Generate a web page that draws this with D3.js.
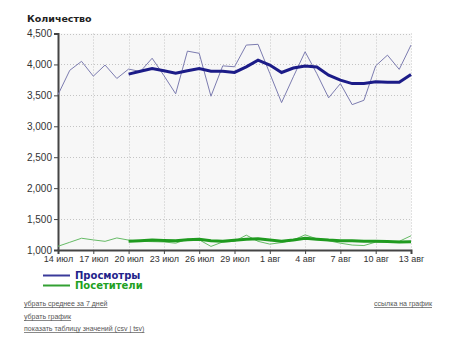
<!DOCTYPE html>
<html><head><meta charset="utf-8">
<script src="https://cdn.jsdelivr.net/npm/d3@7"></script>
<style>
body{margin:0;background:#fff;}
svg{display:block;}
.lnk{font-family:"Liberation Sans",Arial,sans-serif;font-size:7px;fill:#555;text-decoration:underline;}
</style></head>
<body>
<script>
const dayLabels = ["14 июл","17 июл","20 июл","23 июл","26 июл","29 июл","1 авг","4 авг","7 авг","10 авг","13 авг"];
const yTicks = [1000,1500,2000,2500,3000,3500,4000,4500];
const views = [3510,3905,4050,3810,3990,3773,3925,3885,4100,3820,3525,4215,4180,3486,3977,3962,4313,4325,3855,3383,3800,4205,3850,3460,3690,3350,3420,3977,4150,3920,4313];
const viewsAvg = [3843,3890,3935,3897,3856,3897,3935,3890,3890,3870,3960,4070,3990,3870,3942,3973,3960,3826,3745,3690,3690,3718,3710,3710,3838];
const visitors = [1060,1125,1190,1163,1140,1195,1160,1140,1135,1130,1110,1175,1165,1058,1130,1140,1240,1140,1095,1120,1160,1245,1180,1150,1110,1080,1072,1128,1135,1140,1230];
const visitorsAvg = [1140,1150,1160,1155,1150,1165,1172,1150,1140,1158,1175,1180,1160,1142,1160,1188,1175,1160,1150,1148,1140,1140,1138,1130,1135];
const avgStart = 6;

const W=450,H=351;
const svg=d3.select("body").append("svg").attr("width",W).attr("height",H);
const x=d3.scaleLinear().domain([0,30]).range([58,411]);
const y=d3.scaleLinear().domain([1000,4500]).range([250,33.5]);

svg.append("rect").attr("x",58).attr("y",33.5).attr("width",353).attr("height",216.5).attr("fill","#f7f7f7");

const g=svg.append("g");
g.selectAll(".hg").data(yTicks.slice(1)).join("line")
 .attr("x1",58).attr("x2",411).attr("y1",d=>Math.round(y(d))+0.5).attr("y2",d=>Math.round(y(d))+0.5)
 .attr("stroke","#c4c4c4").attr("stroke-dasharray","1,2");
g.selectAll(".vg").data(dayLabels.map((d,i)=>i*3).slice(1)).join("line")
 .attr("x1",d=>Math.round(x(d))+0.5).attr("x2",d=>Math.round(x(d))+0.5).attr("y1",33.5).attr("y2",250)
 .attr("stroke","#c4c4c4").attr("stroke-dasharray","1,2");

const fmt=d3.format(",");
const ya=svg.append("g").attr("transform","translate(58,0)")
 .call(d3.axisLeft(y).tickValues(yTicks).tickFormat(fmt).tickSize(4).tickPadding(2));
ya.select(".domain").attr("stroke","#444").attr("stroke-width",2);
ya.selectAll(".tick line").attr("stroke","#444");
ya.selectAll("text").attr("font-family","'Liberation Sans',Arial,sans-serif").attr("font-size","10px").attr("fill","#333");

const xa=svg.append("g").attr("transform","translate(0,250)")
 .call(d3.axisBottom(x).tickValues(dayLabels.map((d,i)=>i*3)).tickFormat((d,i)=>dayLabels[i]).tickSize(4).tickPadding(2));
xa.select(".domain").attr("stroke","#444").attr("stroke-width",2);
xa.selectAll(".tick line").attr("stroke","#444");
xa.selectAll("text").attr("font-family","'Liberation Sans',Arial,sans-serif").attr("font-size","9px").attr("fill","#333");

const line=d3.line().x(d=>x(d[0])).y(d=>y(d[1]));
const toPts=(arr,off)=>arr.map((v,i)=>[i+off,v]);

svg.append("path").attr("d",line(toPts(visitors,0))).attr("fill","none").attr("stroke","#66bb66").attr("stroke-width",1);
svg.append("path").attr("d",line(toPts(visitorsAvg,avgStart))).attr("fill","none").attr("stroke","#1f9a1f").attr("stroke-width",3);
svg.append("path").attr("d",line(toPts(views,0))).attr("fill","none").attr("stroke","#7c7cb0").attr("stroke-width",1);
svg.append("path").attr("d",line(toPts(viewsAvg,avgStart))).attr("fill","none").attr("stroke","#1c1c88").attr("stroke-width",3);

svg.append("text").attr("x",27).attr("y",22).text("Количество")
 .attr("font-family","'DejaVu Sans',Verdana,sans-serif").attr("font-weight","bold").attr("font-size","9.5px").attr("fill","#222");

const leg=[["Просмотры","#3a3a9a","#22228a"],["Посетители","#33a033","#22a022"]];
leg.forEach((l,i)=>{
 const yy=279+i*10;
 svg.append("line").attr("x1",43).attr("x2",70).attr("y1",yy-3.5).attr("y2",yy-3.5).attr("stroke",l[1]).attr("stroke-width",2);
 svg.append("text").attr("x",75).attr("y",yy).text(l[0]).attr("font-family","'DejaVu Sans',Verdana,sans-serif")
  .attr("font-weight","bold").attr("font-size","10px").attr("fill",l[2]);
});

svg.append("text").attr("class","lnk").attr("x",24).attr("y",306).text("убрать среднее за 7 дней");
svg.append("text").attr("class","lnk").attr("x",24).attr("y",319).text("убрать график");
svg.append("text").attr("class","lnk").attr("x",24).attr("y",331).text("показать таблицу значений (csv | tsv)");
svg.append("text").attr("class","lnk").attr("x",432).attr("y",306).attr("text-anchor","end").text("ссылка на график");
</script>
</body></html>
